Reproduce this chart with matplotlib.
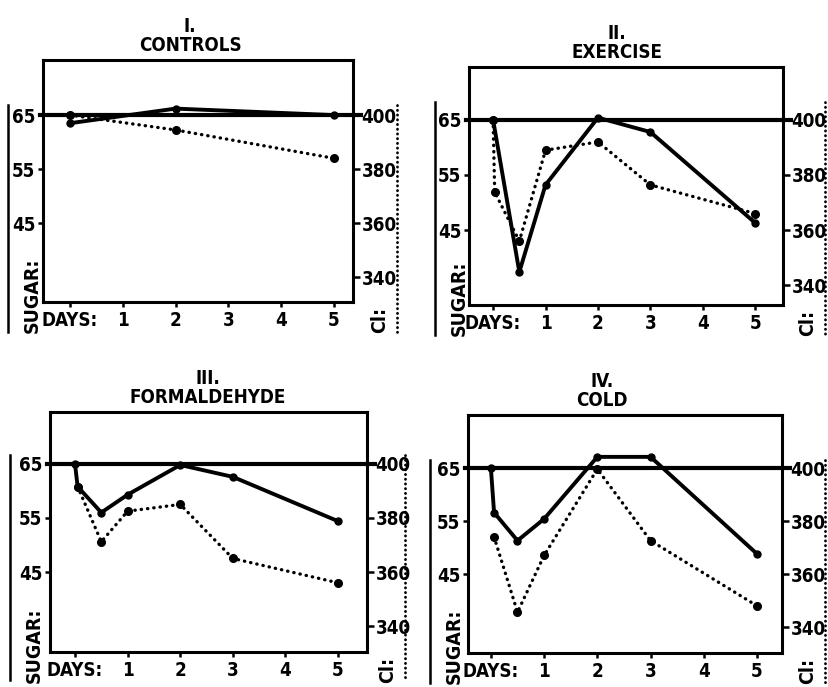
import matplotlib
matplotlib.use("Agg")
import matplotlib.pyplot as plt

plt.rcParams["font.family"] = ["DejaVu Sans"]
plt.rcParams["font.stretch"] = "condensed"
plt.rcParams["font.weight"] = "bold"

# axis ticks
day_ticks = [0, 1, 2, 3, 4, 5]
day_labels = ["DAYS:", "1", "2", "3", "4", "5"]
sugar_ticks = [45, 55, 65]
cl_ticks = [340, 360, 380, 400]
sugar_ref = 65

titles = ["I.\nCONTROLS", "II.\nEXERCISE", "III.\nFORMALDEHYDE", "IV.\nCOLD"]

# I. controls
ctrl_sugar_days = [0, 2, 5]
ctrl_sugar = [63.5, 66.2, 65.0]
ctrl_cl_days = [0, 2, 5]
ctrl_cl = [400, 394.5, 384]

# II. exercise
exer_sugar_days = [0, 0.5, 1, 2, 3, 5]
exer_sugar = [65, 37.4, 53.2, 65.4, 62.8, 46.3]
exer_cl_days = [0, 0.03, 0.5, 1, 2, 3, 5]
exer_cl = [400, 373.8, 356, 389, 392, 376.4, 366]

# III. formaldehyde
form_sugar_days = [0, 0.05, 0.5, 1, 2, 3, 5]
form_sugar = [65, 60.8, 56.0, 59.3, 64.8, 62.6, 54.4]
form_cl_days = [0.05, 0.5, 1, 2, 3, 5]
form_cl = [391.6, 371.2, 382.5, 385, 365, 356]

# IV. cold
cold_sugar_days = [0, 0.06, 0.5, 1, 2, 3, 5]
cold_sugar = [65, 56.6, 51.3, 55.4, 67.1, 67.1, 48.8]
cold_cl_days = [0.06, 0.5, 1, 2, 3, 5]
cold_cl = [374, 345.6, 367, 399.6, 372.6, 348]

sugar_days = [ctrl_sugar_days, exer_sugar_days, form_sugar_days, cold_sugar_days]
sugar_vals = [ctrl_sugar, exer_sugar, form_sugar, cold_sugar]
cl_days = [ctrl_cl_days, exer_cl_days, form_cl_days, cold_cl_days]
cl_vals = [ctrl_cl, exer_cl, form_cl, cold_cl]

# layout in pixels: box (x0, top, x1, bottom), outer left / right line x, outer line top / bottom
W, H = 829, 687
boxes = [(43, 60, 353, 302), (469, 67, 783, 305), (50, 412, 367, 652), (468, 415, 782, 653)]
outer = [(8, 397, 105, 332), (435, 825, 102, 335), (10, 405, 455, 680), (430, 825, 460, 683)]
xlims = [(-0.51, 5.36), (-0.46, 5.53), (-0.475, 5.55), (-0.43, 5.47)]
ylims = [(30.4, 75.2), (31.4, 74.6), (30.2, 74.6), (30.1, 75.0)]
title_x = [190, 617, 208, 602]

fig = plt.figure(figsize=(W / 100, H / 100), dpi=100)

for i in range(4):
    x0, top, x1, bot = boxes[i]
    ax = fig.add_axes([x0 / W, (H - bot) / H, (x1 - x0) / W, (bot - top) / H])
    ax.set_xlim(*xlims[i])
    ax.set_ylim(*ylims[i])
    for s in ax.spines.values():
        s.set_linewidth(2.2)

    ax.set_xticks(day_ticks)
    ax.set_xticklabels(day_labels)
    ax.set_yticks(sugar_ticks)
    ax.tick_params(axis="x", direction="out", length=3.5, width=1.8, pad=3, labelsize=13.5)
    ax.tick_params(axis="y", direction="out", length=3.5, width=1.8, pad=2, labelsize=13.5)

    ax2 = ax.twinx()
    lo, hi = ylims[i]
    ax2.set_ylim(400 + 2 * (lo - sugar_ref), 400 + 2 * (hi - sugar_ref))
    ax2.set_yticks(cl_ticks)
    ax2.tick_params(axis="y", direction="out", length=5, width=1.8, pad=1, labelsize=13.5)
    for s in ax2.spines.values():
        s.set_visible(False)

    ax.axhline(sugar_ref, xmin=-0.01, xmax=1.025, color="black", lw=3, clip_on=False, zorder=3)

    ax.plot(sugar_days[i], sugar_vals[i], color="black", lw=2.8, marker="o", ms=5, zorder=4)
    ax2.plot(cl_days[i], cl_vals[i], color="black", lw=2.4, linestyle=(0, (0.1, 1.8)),
             dash_capstyle="round", marker="o", ms=5.5, zorder=4)

    # outer axis lines
    fx = lambda px: (px - x0) / (x1 - x0)
    fy = lambda py: (bot - py) / (bot - top)
    lx, rx, oy0, oy1 = outer[i]
    ax.plot([fx(lx), fx(lx)], [fy(oy0), fy(oy1)], transform=ax.transAxes,
            color="black", lw=1.8, clip_on=False)
    ax.plot([fx(rx), fx(rx)], [fy(oy0), fy(oy1)], transform=ax.transAxes,
            color="black", lw=2.0, linestyle=(0, (0.1, 1.6)), dash_capstyle="round", clip_on=False)

    ax.text(fx(lx + 24), fy(bot + 31), "SUGAR:", rotation=90, ha="center", va="bottom",
            fontsize=14, transform=ax.transAxes)
    ax.text(fx(rx - 17), fy(bot + 31), "Cl:", rotation=90, ha="center", va="bottom",
            fontsize=14, transform=ax.transAxes)

    ax.text(fx(title_x[i]), 1.022, titles[i], ha="center", va="bottom", fontsize=13.5,
            linespacing=1.0, transform=ax.transAxes)

fig.savefig("out.png", dpi=100)
